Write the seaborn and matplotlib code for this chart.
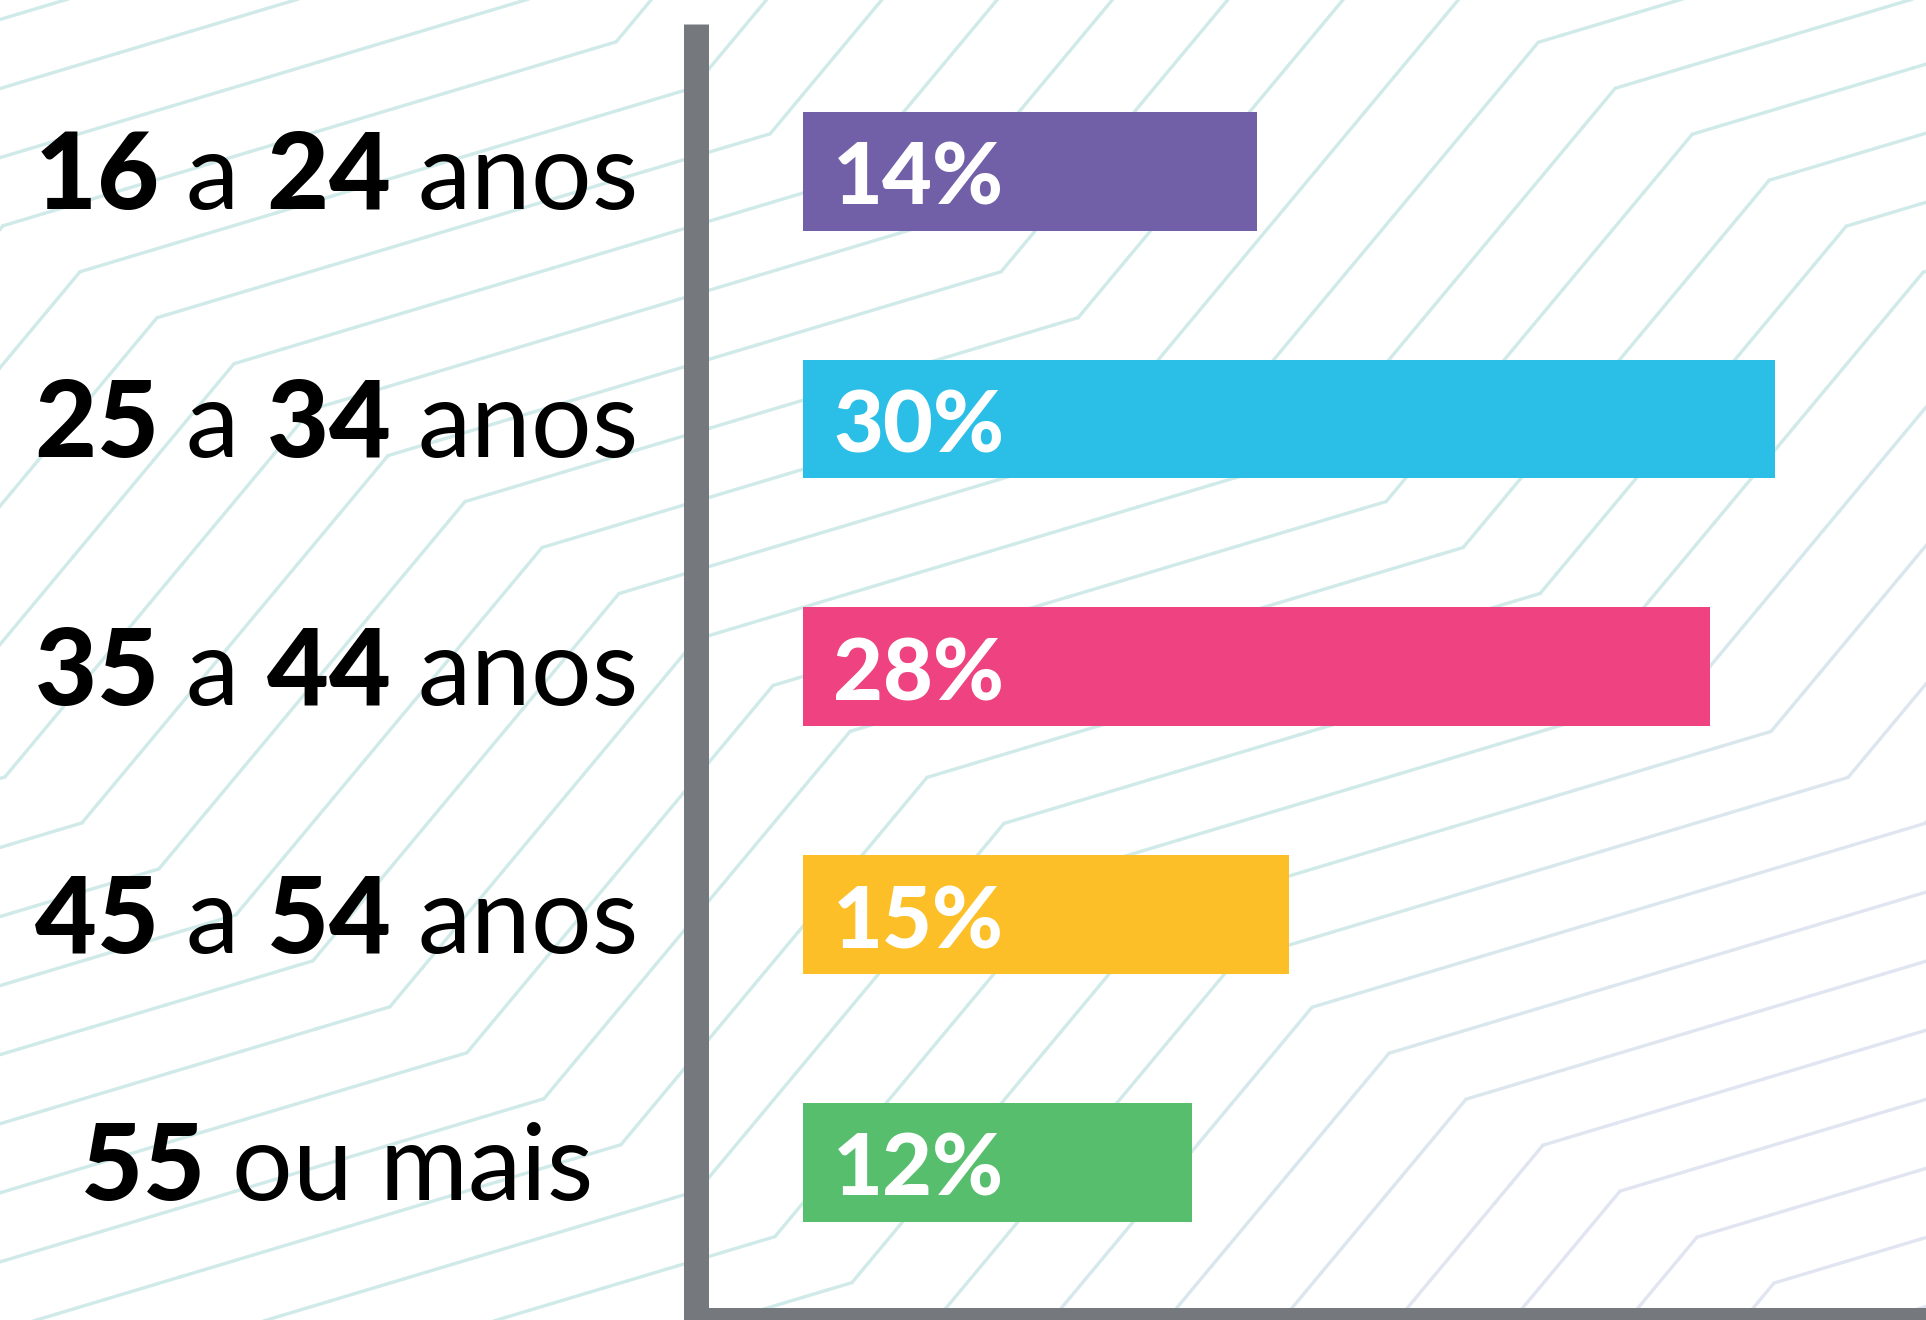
import numpy as np
import pandas as pd
import seaborn as sns
import matplotlib.pyplot as plt
from matplotlib.collections import LineCollection
from matplotlib.colors import to_rgb
import matplotlib.transforms as mtransforms

# data
faixas = ["16 a 24 anos", "25 a 34 anos", "35 a 44 anos", "45 a 54 anos", "55 ou mais"]
rotulos = [r"$\mathbf{16}$ a $\mathbf{24}$ anos",
           r"$\mathbf{25}$ a $\mathbf{34}$ anos",
           r"$\mathbf{35}$ a $\mathbf{44}$ anos",
           r"$\mathbf{45}$ a $\mathbf{54}$ anos",
           r"$\mathbf{55}$ ou mais"]
percentuais = [14, 30, 28, 15, 12]
cores = ["#715fa8", "#2bbfe8", "#ee4380", "#fdbf28", "#57be6e"]

sns.set_style("white")
plt.rcParams['font.family'] = ['Lato', 'DejaVu Sans']
plt.rcParams['mathtext.fontset'] = 'custom'
plt.rcParams['mathtext.rm'] = 'Lato'
plt.rcParams['mathtext.bf'] = 'Lato:black'

W, H = 1926, 1320
fig = plt.figure(figsize=(W / 100, H / 100), dpi=100)

# background zig-zag pattern (pure decoration, in pixel coords)
bg = fig.add_axes([0, 0, 1, 1], zorder=0)
bg.set_xlim(0, W)
bg.set_ylim(H, 0)
bg.axis('off')

m = 0.597            # slope of the "knee" fronts
a_shallow, a_steep = 0.30, 1.2
def front(k):
    return 224 - 550 * (k - 1)
def slope(k):
    return a_shallow if k % 2 == 1 else a_steep

polys = []
for t in np.arange(-3000, 4500, 77):
    x, y = t, front(1) + m * t
    pts = [(x, y)]
    k = 1
    while x < W + 300 and y > -300:
        a = slope(k)
        s = (y - front(k + 1) - m * x) / (a + m)
        x, y = x + s, y - a * s
        pts.append((x, y))
        k += 1
    x, y = pts[0]
    back = []
    k = 0
    while x > -300 and y < H + 300:
        a = slope(k)
        s = (front(k) + m * x - y) / (a + m)
        x, y = x - s, y + a * s
        back.append((x, y))
        k -= 1
    polys.append(back[::-1] + pts)

teal = np.array(to_rgb("#cfeae8"))
lav = np.array(to_rgb("#e1e5f1"))
segs, cols = [], []
for p in polys:
    p = np.array(p)
    for i in range(len(p) - 1):
        n = max(2, int(np.hypot(*(p[i + 1] - p[i])) / 25))
        xs = np.linspace(p[i, 0], p[i + 1, 0], n + 1)
        ys = np.linspace(p[i, 1], p[i + 1, 1], n + 1)
        for j in range(n):
            segs.append([(xs[j], ys[j]), (xs[j + 1], ys[j + 1])])
            f = np.clip(((xs[j] + ys[j]) - 2150) / 600, 0, 1)
            cols.append(teal * (1 - f) + lav * f)
bg.add_collection(LineCollection(segs, colors=cols, linewidths=2.4, capstyle='round'))

# main bar chart
ax = fig.add_axes([695.5 / W, 0.5 / H, 1 - 695.5 / W, (H - 24 - 0.5) / H], zorder=1)
ax.patch.set_alpha(0)
df = pd.DataFrame({"faixa": faixas, "pct": percentuais})
sns.barplot(data=df, x="pct", y="faixa", hue="faixa", palette=cores, orient="h",
            width=0.48, saturation=1, linewidth=0, legend=False, ax=ax)
ax.set_xlim(-3.32, 34.66)
ax.set_ylim(4.634, -0.594)
ax.set_xticks([])
ax.set_yticks([])
ax.set_xlabel('')
ax.set_ylabel('')
for side in ['top', 'right']:
    ax.spines[side].set_visible(False)
for side in ['left', 'bottom']:
    ax.spines[side].set_color('#75787d')
    ax.spines[side].set_linewidth(18)
    ax.spines[side].set_capstyle('butt')

trans = mtransforms.blended_transform_factory(ax.transAxes, ax.transData)
trans_lab = mtransforms.offset_copy(trans, fig, y=-8, units='dots')
trans_pct = mtransforms.offset_copy(ax.transData, fig, y=-9, units='dots')
for i, (rot, v) in enumerate(zip(rotulos, percentuais)):
    ax.text(-0.293, i, rot, transform=trans_lab, ha='center', va='center',
            fontsize=77, color='black', clip_on=False)
    ax.text(0.93, i, f"{v}%", transform=trans_pct, ha='left', va='center',
            fontsize=62, fontweight='black', color='white')

fig.savefig('out.png', dpi=100)
